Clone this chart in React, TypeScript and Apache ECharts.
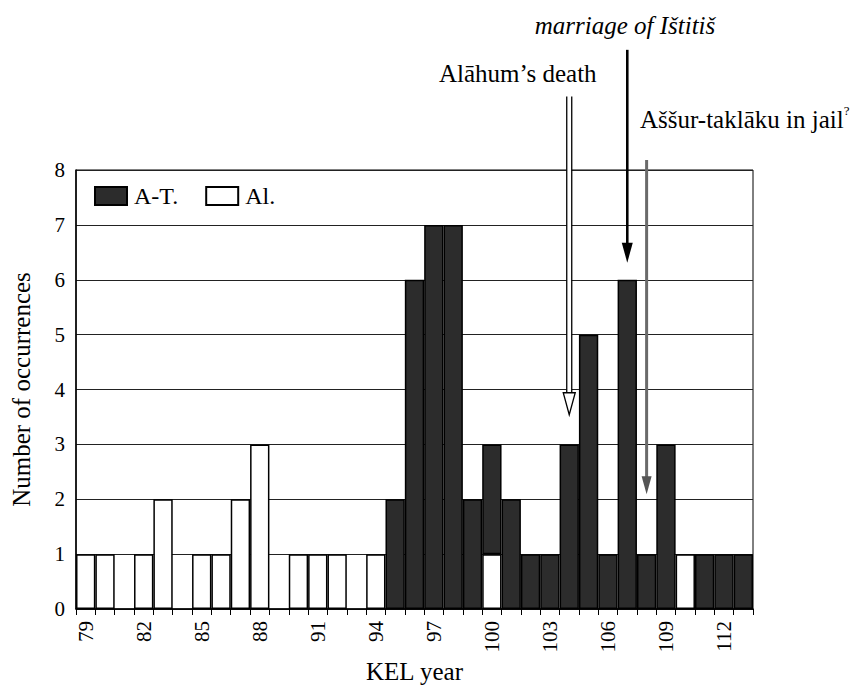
import React, { useEffect, useRef } from "react";
import * as echarts from "echarts";

const years = [
  "79", "80", "81", "82", "83", "84", "85", "86", "87", "88", "89", "90",
  "91", "92", "93", "94", "95", "96", "97", "98", "99", "100", "101", "102",
  "103", "104", "105", "106", "107", "108", "109", "110", "111", "112", "113",
];
// Aššur-taklāku (A-T.)
const atValues = [
  0, 0, 0, 0, 0, 0, 0, 0, 0, 0, 0, 0,
  0, 0, 0, 0, 2, 6, 7, 7, 2, 2, 2, 1,
  1, 3, 5, 1, 6, 1, 3, 0, 1, 1, 1,
];
// Alāhum (Al.)
const alValues = [
  1, 1, 0, 1, 2, 0, 1, 1, 2, 3, 0, 1,
  1, 1, 0, 1, 0, 0, 0, 0, 0, 1, 0, 0,
  0, 0, 0, 0, 0, 0, 0, 1, 0, 0, 0,
];
const yTicks = [0, 1, 2, 3, 4, 5, 6, 7, 8];
// arrows: year, tip value, top value (above the plot), style
const arrows = [
  { year: "104", tip: 3.54, top: 9.34, kind: "hollow" },
  { year: "107", tip: 6.31, top: 10.19, kind: "solid" },
  { year: "108", tip: 2.09, top: 8.18, kind: "gray" },
];

const FONT = "Liberation Serif, Times New Roman, serif";

export default function App() {
  const ref = useRef<HTMLDivElement>(null);
  useEffect(() => {
    if (!ref.current) return;
    const chart = echarts.init(ref.current, null, { renderer: "svg" });
    const toData = (arr: number[]) => arr.map((v) => (v === 0 ? "-" : v));
    chart.setOption({
      animation: false,
      backgroundColor: "#fff",
      textStyle: { fontFamily: FONT, color: "#000" },
      grid: {
        left: 76,
        right: 105,
        top: 170,
        bottom: 77,
        show: true,
        borderColor: "#000",
        borderWidth: 1,
        backgroundColor: "transparent",
        containLabel: false,
        outerBoundsMode: "none",
      },
      legend: {
        data: ["A-T.", "Al."],
        left: 89,
        top: 179,
        itemWidth: 32,
        itemHeight: 18,
        itemGap: 27,
        icon: "rect",
        textStyle: { fontFamily: FONT, fontSize: 24, color: "#000", padding: [0, 0, 0, 2] },
      },
      xAxis: {
        type: "category",
        data: years,
        boundaryGap: true,
        name: "KEL year",
        nameLocation: "middle",
        nameGap: 50,
        nameMoveOverlap: false,
        nameTextStyle: { fontFamily: FONT, fontSize: 25, color: "#000" },
        axisLine: { lineStyle: { color: "#000", width: 1.5 } },
        axisTick: { show: true, interval: 0, length: 6, lineStyle: { color: "#000", width: 1 } },
        axisLabel: {
          interval: 2,
          rotate: 90,
          margin: 12,
          fontFamily: FONT,
          fontSize: 21,
          color: "#000",
        },
      },
      yAxis: {
        type: "value",
        min: yTicks[0],
        max: yTicks[yTicks.length - 1],
        interval: 1,
        name: "Number of occurrences",
        nameLocation: "middle",
        nameGap: 42,
        nameMoveOverlap: false,
        nameTextStyle: { fontFamily: FONT, fontSize: 25, color: "#000" },
        axisLine: { show: true, lineStyle: { color: "#000", width: 1.5 } },
        axisTick: { show: false },
        axisLabel: { margin: 11, fontFamily: FONT, fontSize: 21, color: "#000" },
        splitLine: { show: true, lineStyle: { color: "#222", width: 1 } },
      },
      series: [
        {
          name: "Al.",
          type: "bar",
          stack: "total",
          data: toData(alValues),
          barCategoryGap: 0,
          itemStyle: { color: "#fff", borderColor: "#000", borderWidth: 1.5 },
        },
        {
          name: "A-T.",
          type: "bar",
          stack: "total",
          data: toData(atValues),
          barCategoryGap: 0,
          itemStyle: { color: "#2c2c2c", borderColor: "#000", borderWidth: 1.5 },
        },
      ],
    });

    const graphics: any[] = [];
    arrows.forEach((a) => {
      const [x, yTip] = chart.convertToPixel({ gridIndex: 0 }, [a.year, a.tip]) as number[];
      const [, yTop] = chart.convertToPixel({ gridIndex: 0 }, [a.year, a.top]) as number[];
      if (a.kind === "solid") {
        graphics.push({
          type: "line",
          z: 100,
          shape: { x1: x, y1: yTop, x2: x, y2: yTip - 16 },
          style: { stroke: "#000", lineWidth: 2.6 },
        });
        graphics.push({
          type: "polygon",
          z: 100,
          shape: { points: [[x - 5.5, yTip - 20], [x + 5.5, yTip - 20], [x, yTip]] },
          style: { fill: "#000" },
        });
      } else if (a.kind === "hollow") {
        const headTop = yTip - 22;
        graphics.push({
          type: "rect",
          z: 100,
          shape: { x: x - 2.5, y: yTop, width: 5, height: headTop - yTop },
          style: { fill: "#fff", stroke: "none" },
        });
        graphics.push({
          type: "line",
          z: 101,
          shape: { x1: x - 2.5, y1: yTop, x2: x - 2.5, y2: headTop },
          style: { stroke: "#000", lineWidth: 1.3 },
        });
        graphics.push({
          type: "line",
          z: 101,
          shape: { x1: x + 2.5, y1: yTop, x2: x + 2.5, y2: headTop },
          style: { stroke: "#000", lineWidth: 1.3 },
        });
        graphics.push({
          type: "polygon",
          z: 101,
          shape: { points: [[x - 6, headTop], [x + 6, headTop], [x, yTip]] },
          style: { fill: "#fff", stroke: "#000", lineWidth: 1.3 },
        });
      } else {
        graphics.push({
          type: "line",
          z: 100,
          shape: { x1: x, y1: yTop, x2: x, y2: yTip - 14 },
          style: { stroke: "#6a6a6a", lineWidth: 3 },
        });
        graphics.push({
          type: "polygon",
          z: 100,
          shape: { points: [[x - 5, yTip - 18], [x + 5, yTip - 18], [x, yTip]] },
          style: { fill: "#555" },
        });
      }
    });

    graphics.push({
      type: "text",
      z: 102,
      x: 625,
      y: 25,
      style: {
        text: "marriage of Ištitiš",
        fontFamily: FONT,
        fontStyle: "italic",
        fontSize: 25,
        fill: "#000",
        align: "center",
        verticalAlign: "middle",
      },
    });
    graphics.push({
      type: "text",
      z: 102,
      x: 439,
      y: 73,
      style: {
        text: "Alāhum’s death",
        fontFamily: FONT,
        fontSize: 25,
        fill: "#000",
        align: "left",
        verticalAlign: "middle",
      },
    });
    graphics.push({
      type: "text",
      z: 102,
      x: 640,
      y: 119,
      style: {
        text: "{a|Aššur-taklāku in jail}{s|?}",
        fontFamily: FONT,
        fill: "#000",
        align: "left",
        verticalAlign: "middle",
        rich: {
          a: { fontFamily: FONT, fontSize: 25, fill: "#000", lineHeight: 30 },
          s: { fontFamily: FONT, fontSize: 13, fill: "#000", verticalAlign: "top", lineHeight: 16 },
        },
      },
    });

    chart.setOption({ graphic: graphics });
    return () => chart.dispose();
  }, []);
  return (
    <div
      ref={ref}
      style={{ position: "fixed", left: 0, top: 0, width: 858, height: 686, background: "#fff" }}
    />
  );
}
